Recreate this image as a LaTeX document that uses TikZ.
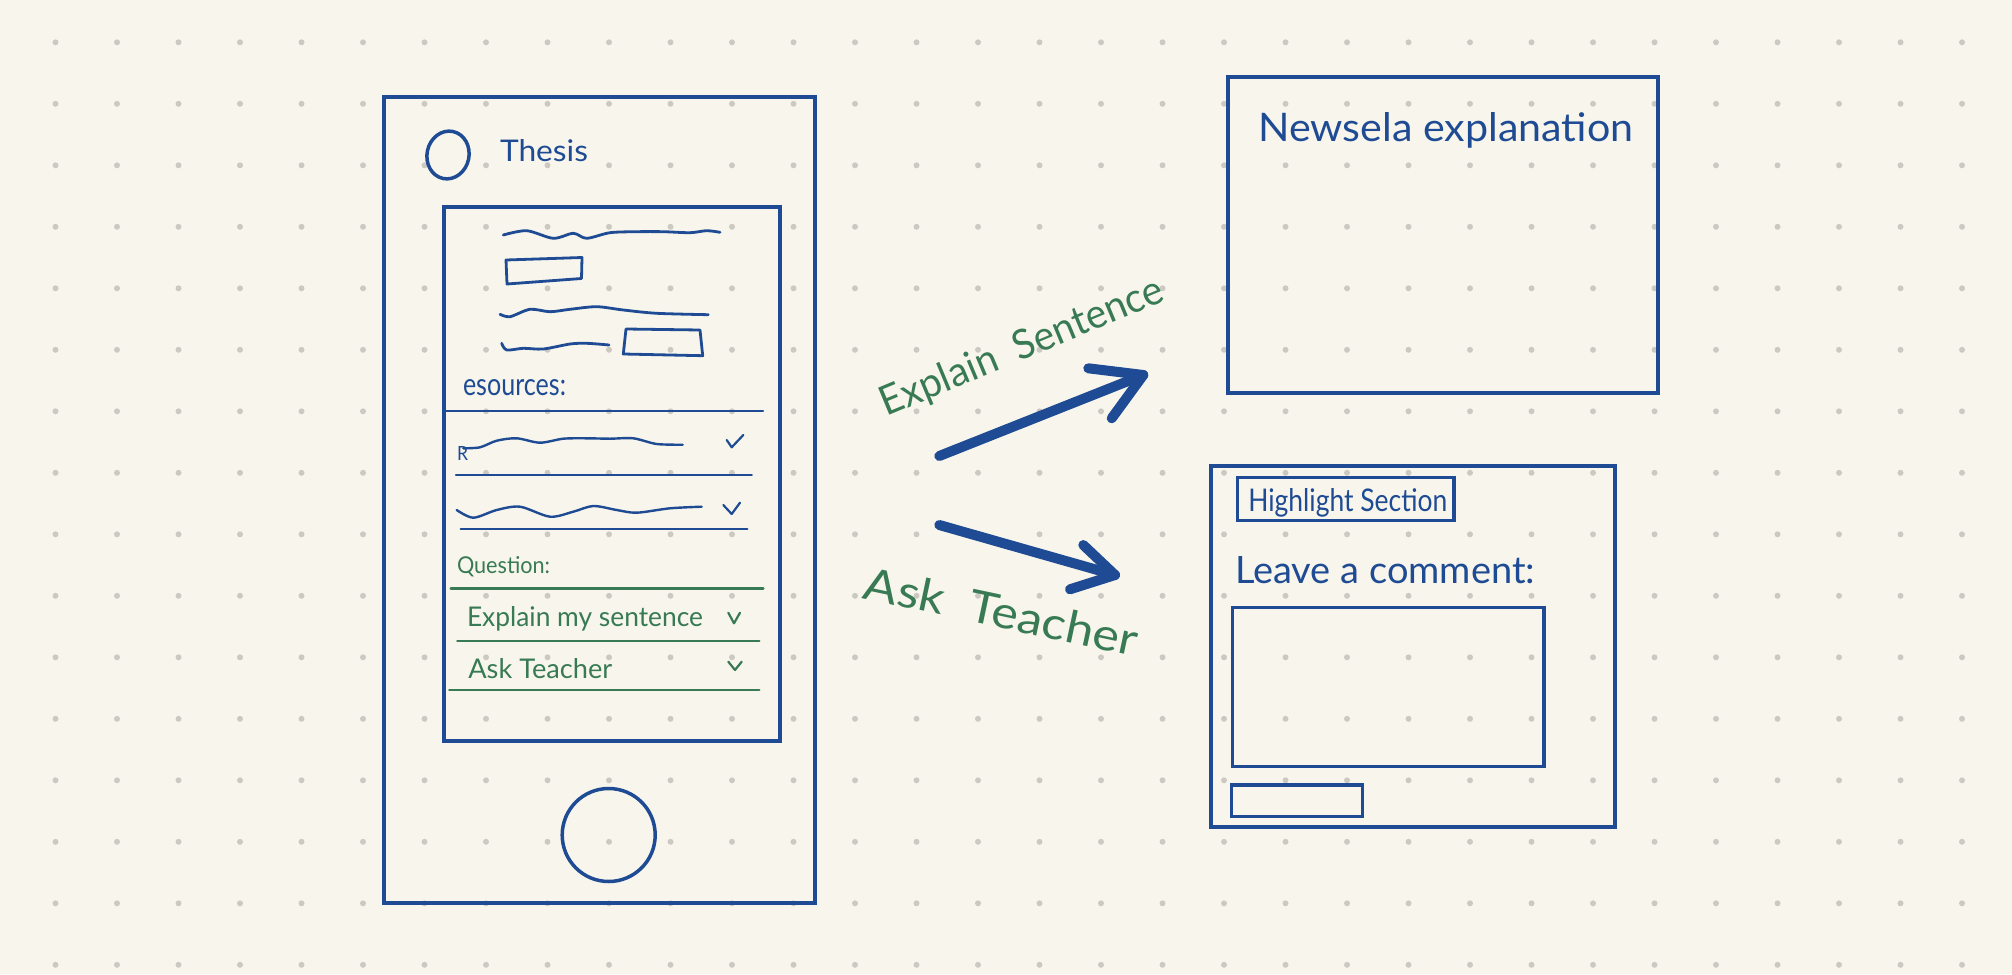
\documentclass[tikz,border=0pt]{standalone}
\usepackage{fontspec}
\usepackage{graphicx}
\setmainfont{Lato}
\definecolor{paper}{RGB}{248,246,236}
\definecolor{dotgray}{RGB}{204,201,194}
\definecolor{ink}{RGB}{30,75,148}
\definecolor{inkgreen}{RGB}{56,122,84}
% scale a handwritten label to a given width and letter height
\newcommand{\hand}[3]{\resizebox{#1pt}{#2pt}{#3}}
\begin{document}
\begin{tikzpicture}[x=1pt,y=-1pt,
  frame/.style={draw=ink, line width=4, line join=miter},
  thinframe/.style={draw=ink, line width=3.2, line join=miter},
  scribble/.style={draw=ink, line width=2.8, line cap=round, line join=round},
  rule/.style={draw=ink, line width=2.4, line cap=round},
  grule/.style={draw=inkgreen, line width=2.4, line cap=round},
  tick/.style={line width=2.2, line cap=round, line join=round},
  bigarrow/.style={draw=ink, line width=10, line cap=round, line join=round},
  label/.style={inner sep=0, outer sep=0, anchor=base west, text=ink},
  glabel/.style={inner sep=0, outer sep=0, anchor=base west, text=inkgreen}]

% paper and dot grid
\useasboundingbox (0,0) rectangle (2012,974);
\fill[paper] (0,0) rectangle (2012,974);
\foreach \i in {0,...,31}
  \foreach \j in {0,...,15}
    \fill[dotgray] ({55.5+61.5*\i},{42.3+61.5*\j}) circle (3);

% ---------- phone ----------
\draw[frame] (384,97) rectangle (815,903);
\draw[ink, line width=3.5] (448,155) ellipse [x radius=21, y radius=24, rotate=-12];
\node[label] (thesis) at (500,161) {\hand{88}{22}{Thesis}};
\draw[thinframe, line width=3.6] (444,207) rectangle (780,741);
\draw[ink, line width=3.5] (608.7,835) circle (46.5);

% article scribbles
\draw[scribble] plot[smooth] coordinates {(503.3,235) (526.7,230.7) (553.3,238.3) (573.3,233.3) (586.7,238.3) (610,232.7) (636.7,231.7) (663.3,231.7) (690,232.7) (706.7,230.7) (720,232.3)};
\draw[scribble] (506,260) -- (582,257.5) -- (581.5,278.5) -- (507,284) -- cycle;
\draw[scribble] plot[smooth] coordinates {(500,314.3) (510,316.7) (530,309.3) (550,311.7) (570,309.3) (596.7,306.7) (623.3,310) (656.7,313.3) (708.3,314.7)};
\draw[scribble] plot[smooth] coordinates {(501.7,343.3) (506.7,350) (523.3,348.3) (543.3,349) (570,344) (586.7,343.3) (609,345)};
\draw[scribble] (626,329) -- (700,330) -- (702.7,355.7) -- (623.3,354) -- cycle;

% resources list
\node[label] (res) at (463,395) {\hand{103}{16}{esources:}};
\draw[rule] (444,410.7) -- (763,410.7);
\node[label] (rmark) at (457,460) {\hand{11}{14}{R}};
\draw[scribble, line width=2.4] plot[smooth] coordinates {(463.3,448.3) (480,447.3) (496.7,440.7) (516.7,438.3) (540,442.7) (563.3,438.7) (586.7,438.3) (610,438.7) (633.3,438.3) (656.7,444) (682.7,444.7)};
\draw[tick, ink] (726.7,440) -- (731.7,447.3) -- (743.3,435);
\draw[rule] (456,474.7) -- (751.7,474.7);
\draw[scribble, line width=2.4] plot[smooth] coordinates {(456.7,510) (473.3,517.7) (496.7,510) (520,506.7) (550,516.7) (573.3,511.7) (593.3,506) (616.7,510) (636.7,512.7) (670,508.3) (701.7,506.7)};
\draw[tick, ink] (723.3,505) -- (731.7,514) -- (740,502.7);
\draw[rule] (460.7,529) -- (747.3,529);

% question list
\node[glabel] (question) at (457,573.3) {\hand{93}{17}{Question:}};
\draw[grule] (450.7,588.3) -- (763.3,588.3);
\node[glabel] (explainmy) at (467,626.7) {\hand{236}{20}{Explain my sentence}};
\draw[tick, inkgreen] (728.3,612.7) -- (734,623.3) -- (740,612.7);
\draw[grule] (457.3,640.7) -- (759.3,640.7);
\node[glabel] (askrow) at (468.3,678.3) {\hand{144}{20}{Ask Teacher}};
\draw[tick, inkgreen] (728.3,661.7) -- (735,670) -- (741.7,661.7);
\draw[grule] (449.3,690) -- (759.3,690);

% ---------- explanation panel ----------
\draw[frame] (1228.3,76.7) rectangle (1657.7,393.3);
\node[label] (newsela) at (1258.3,141.7) {\hand{375}{29}{Newsela explanation}};

% ---------- comment panel ----------
\draw[frame, line width=3.8] (1210.7,465.7) rectangle (1615,827.3);
\draw[thinframe] (1237.7,477.7) rectangle (1454,520.7);
\node[label] (highlight) at (1248.3,511.7) {\hand{199}{23}{Highlight Section}};
\node[label] (leave) at (1235,583.3) {\hand{300}{27}{Leave a comment:}};
\draw[thinframe] (1232.7,607.7) rectangle (1544,766.7);
\draw[thinframe] (1231.7,785) rectangle (1362.7,816.7);

% ---------- arrows ----------
\coordinate (ea) at (939.3,456);
\coordinate (eb) at (1143.3,375);
\coordinate (eu) at (1088.3,368.3);
\coordinate (ed) at (1111.7,418.3);
\draw[bigarrow] (ea) -- (eb);
\draw[bigarrow] (eu) -- (eb) -- (ed);
\node[glabel, rotate=22.6] (explainlbl) at (886.7,416.7) {\hand{303}{30}{Explain\ \ Sentence}};

\coordinate (aa) at (939.3,525);
\coordinate (ab) at (1115,575);
\coordinate (au) at (1083.3,545);
\coordinate (ad) at (1070,589.3);
\draw[bigarrow] (aa) -- (ab);
\draw[bigarrow] (au) -- (ab) -- (ad);
\node[glabel, rotate=-12] (asklbl) at (861.7,598.3) {\hand{279}{33}{Ask\ \ Teacher}};
\end{tikzpicture}
\end{document}
